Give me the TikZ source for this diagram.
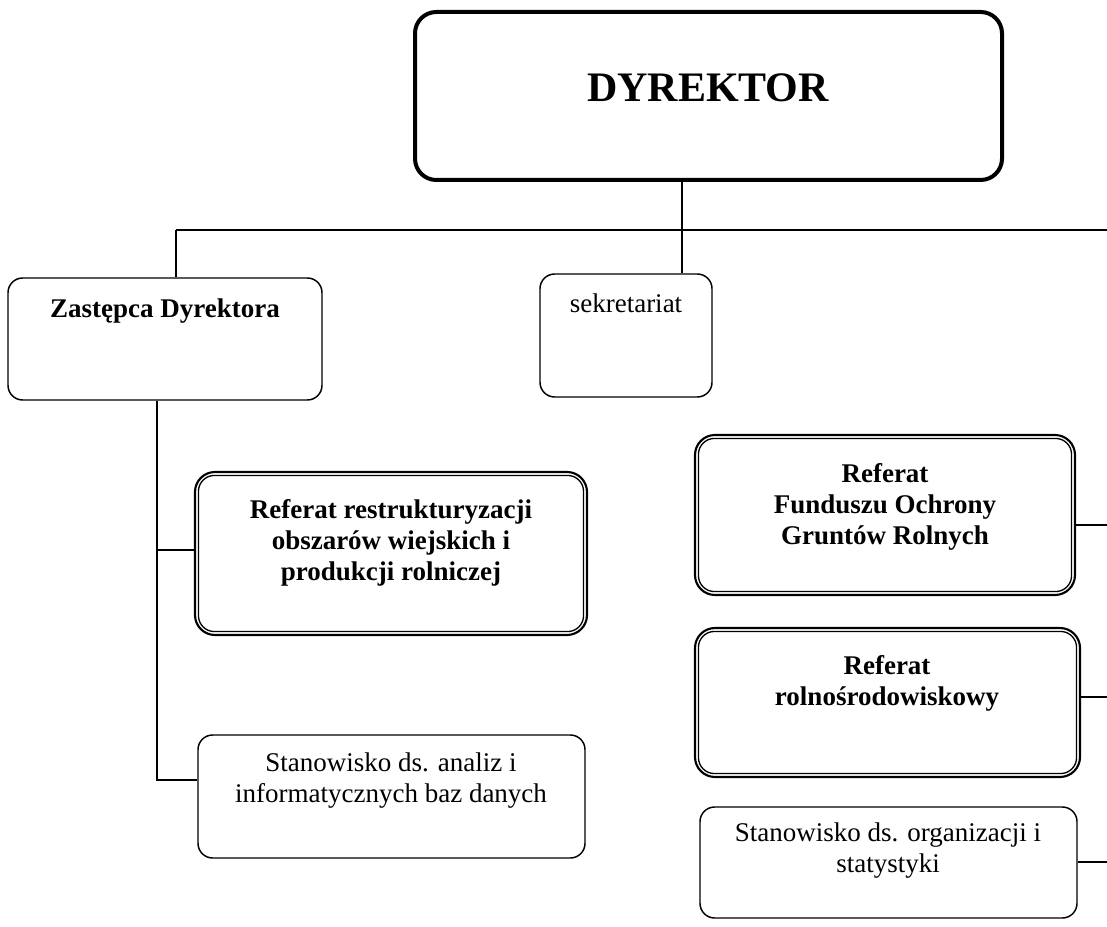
\documentclass[tikz,border=0pt]{standalone}
\usepackage{fontspec}
\setmainfont{Liberation Serif}
\usetikzlibrary{fit}
\begin{document}
\begin{tikzpicture}[x=0.75pt,y=-0.75pt,
  box/.style={draw, line width=1.1pt, rounded corners=11pt, inner sep=0pt},
  bigbox/.style={draw, line width=3pt, rounded corners=16pt, inner sep=0pt},
  dblbox/.style={draw, line width=1.6pt, rounded corners=15pt, inner sep=0pt},
  innerline/.style={line width=1pt, rounded corners=12pt},
  wire/.style={line width=1pt},
  titletxt/.style={font=\bfseries\fontsize{31.5}{36}\selectfont, inner sep=0pt},
  boldtxt/.style={font=\bfseries\fontsize{20.25}{23.25}\selectfont, align=center, inner sep=0pt},
  plaintxt/.style={font=\fontsize{20.25}{23.25}\selectfont, align=center, inner sep=0pt}]

\useasboundingbox (0,0) rectangle (1107,927);

% director
\node[bigbox, fit={(415,12) (1002,180)}] (dyr) {};
\node[titletxt] (dyrT) at (708,88) {DYREKTOR};

% first level
\node[box, fit={(8,278) (322,400)}] (zast) {};
\node[boldtxt, anchor=base] (zastT) at (165,318) {Zastępca Dyrektora};

\node[box, fit={(540,274) (712,397)}] (sek) {};
\node[plaintxt, anchor=base] (sekT) at (626,313) {sekretariat};

% units under the deputy
\node[dblbox, fit={(195,472) (587,635)}] (rr) {};
\draw[innerline] ([shift={(4.5,4.5)}]rr.north west) rectangle ([shift={(-4.5,-4.5)}]rr.south east);
\node[boldtxt, anchor=north] (rrT) at (391,499) {Referat restrukturyzacji\\obszarów wiejskich i\\produkcji rolniczej};

\node[box, fit={(198,735) (585,858)}] (an) {};
\node[plaintxt, anchor=north] (anT) at (391,752) {Stanowisko ds. analiz i\\informatycznych baz danych};

% units on the right
\node[dblbox, fit={(695,435) (1075,595)}] (fogr) {};
\draw[innerline] ([shift={(4.5,4.5)}]fogr.north west) rectangle ([shift={(-4.5,-4.5)}]fogr.south east);
\node[boldtxt, anchor=north] (fogrT) at (885,463) {Referat\\Funduszu Ochrony\\Gruntów Rolnych};

\node[dblbox, fit={(695,628) (1080,777)}] (ros) {};
\draw[innerline] ([shift={(4.5,4.5)}]ros.north west) rectangle ([shift={(-4.5,-4.5)}]ros.south east);
\node[boldtxt, anchor=north] (rosT) at (887,655) {Referat\\rolnośrodowiskowy};

\node[box, fit={(700,807) (1077,918)}] (org) {};
\node[plaintxt, anchor=north] (orgT) at (888,822) {Stanowisko ds. organizacji i\\statystyki};

% junctions
\coordinate (jTop) at (682,230);
\coordinate (jLeft) at (176,230);
\coordinate (jRight) at (1107,230);
\coordinate (sp1) at (157,550);
\coordinate (sp2) at (157,780);
\coordinate (r1) at (1107,525);
\coordinate (r2) at (1107,697);
\coordinate (r3) at (1107,862);

% connectors
\draw[wire] (dyr.south -| jTop) -- (jTop);
\draw[wire] (jLeft) -- (jRight);
\draw[wire] (jLeft) -- (jLeft |- zast.north);
\draw[wire] (jTop) -- (jTop |- sek.north);
\draw[wire] (zast.south -| sp2) -- (sp2) -- (sp2 -| an.west);
\draw[wire] (sp1) -- (sp1 -| rr.west);
\draw[wire] (r1 -| fogr.east) -- (r1);
\draw[wire] (r2 -| ros.east) -- (r2);
\draw[wire] (r3 -| org.east) -- (r3);
\end{tikzpicture}
\end{document}
